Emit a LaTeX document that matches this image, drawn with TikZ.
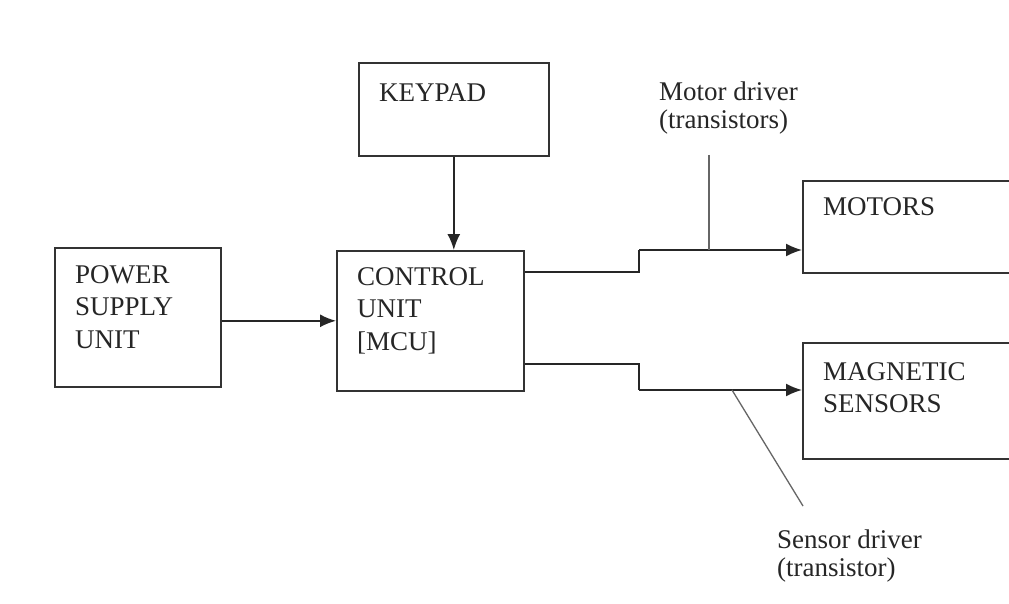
\documentclass[tikz,border=0pt]{standalone}
\usepackage{fontspec}
\setmainfont{Liberation Serif}
\usetikzlibrary{arrows.meta,calc}
\begin{document}
\begin{tikzpicture}[x=1pt,y=-1pt,
  box/.style={draw=black!80,line width=1.6pt,inner sep=0pt,anchor=north west},
  txt/.style={anchor=north west,inner sep=0pt,align=left,font=\fontsize{27}{32.5}\selectfont,text=black!85},
  lbl/.style={anchor=north west,inner sep=0pt,align=left,font=\fontsize{27}{28}\selectfont,text=black!85},
  conn/.style={draw=black!85,line width=1.8pt,-{Latex[length=16pt,width=13pt]}},
  wire/.style={draw=black!85,line width=1.8pt},
  lead/.style={draw=black!60,line width=1.3pt}]
\clip (0,0) rectangle (1009,604);
\fill[white] (0,0) rectangle (1009,604);

% boxes
\node[box,minimum width=190pt,minimum height=93pt] (keypad) at (358,62) {};
\node[box,minimum width=166pt,minimum height=139pt] (power) at (54,247) {};
\node[box,minimum width=187pt,minimum height=140pt] (control) at (336,250) {};
\node[box,minimum width=220pt,minimum height=92pt] (motors) at (802,180) {};
\node[box,minimum width=220pt,minimum height=116pt] (sensors) at (802,342) {};

% box texts
\node[txt] (tkeypad) at (379,83) {KEYPAD};
\node[txt] (tpower) at (75,265) {POWER\\SUPPLY\\UNIT};
\node[txt] (tcontrol) at (357,267) {CONTROL\\UNIT\\{[MCU]}};
\node[txt] (tmotors) at (823,197) {MOTORS};
\node[txt] (tsensors) at (823,362) {MAGNETIC\\SENSORS};

% labels
\node[lbl] (lmotor) at (659,82) {Motor driver\\(transistors)};
\node[lbl] (lsensor) at (777,530) {Sensor driver\\(transistor)};

% connector bend points
\coordinate (m1) at (639,272);
\coordinate (m2) at (639,250);
\coordinate (s1) at (639,364);
\coordinate (s2) at (639,390);
\coordinate (mt) at (709,155);
\coordinate (mb) at (709,250);
\coordinate (st) at (732,390);
\coordinate (sb) at (803,506);

% connectors
\draw[conn] (keypad.south) -- (keypad.south |- control.north);
\draw[conn] (power.east |- control.west) -- (control.west);
\draw[wire] (control.east |- m1) -- (m1) -- (m2);
\draw[conn] (m2) -- (motors.west |- m2);
\draw[wire] (control.east |- s1) -- (s1) -- (s2);
\draw[conn] (s2) -- (sensors.west |- s2);

% leader lines
\draw[lead] (mt) -- (mb);
\draw[lead] (st) -- (sb);
\end{tikzpicture}
\end{document}
